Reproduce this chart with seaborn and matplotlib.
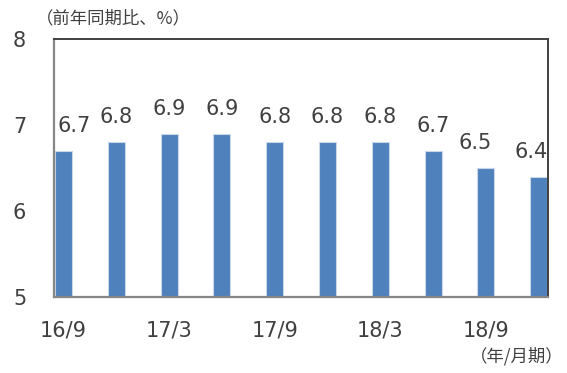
import matplotlib
matplotlib.use("Agg")
import matplotlib.pyplot as plt
import seaborn as sns
import pandas as pd

# year-on-year growth by quarter
quarters = ["16/9", "16/12", "17/3", "17/6", "17/9", "17/12", "18/3", "18/6", "18/9", "18/12"]
growth = [6.7, 6.8, 6.9, 6.9, 6.8, 6.8, 6.8, 6.7, 6.5, 6.4]
tick_labels = ["16/9", "17/3", "17/9", "18/3", "18/9"]
y_ticks = [5, 6, 7, 8]

sns.set_style("white")
plt.rcParams["font.family"] = ["DejaVu Sans", "Noto Sans CJK JP"]

text_color = "#404040"
bar_color = "#4F81BD"
cjk = ["Noto Sans CJK JP", "DejaVu Sans"]

fig = plt.figure(figsize=(5.67, 3.73), dpi=100)
ax = fig.add_axes([54 / 567, 76 / 373, 494 / 567, 258 / 373])

data = pd.DataFrame({"quarter": quarters, "growth": growth})
sns.barplot(data=data, x="quarter", y="growth", order=quarters, color=bar_color,
            saturation=1, width=0.32, edgecolor="#c9d7ea", linewidth=0.8, ax=ax)

ax.set_ylim(5, 8)
ax.set_xlim(-0.18, 9.176)
ax.set_yticks(y_ticks)
ax.set_yticklabels([str(t) for t in y_ticks])
ax.set_xticks([0, 2, 4, 6, 8])
ax.set_xticklabels(tick_labels)
ax.set_xticks([1.83, 3.83, 5.83, 7.83], minor=True)
ax.tick_params(axis="x", which="major", length=0, pad=17, labelsize=15, labelcolor=text_color)
ax.tick_params(axis="x", which="minor", length=5, width=1.2, direction="in", color="#808080")
ax.tick_params(axis="y", length=0, pad=20, labelsize=15, labelcolor=text_color)
ax.set_xlabel("")
ax.set_ylabel("")

for side in ["left", "bottom"]:
    ax.spines[side].set_color("#868686")
    ax.spines[side].set_linewidth(1.6)
for side in ["top", "right"]:
    ax.spines[side].set_color("#404040")
    ax.spines[side].set_linewidth(1.4)

# value labels, nudged like the source at the edges
nudge_px = [11, 0, 0, 0, 0, 0, 0, 0, -11, -8]
for i, v in enumerate(growth):
    ax.annotate(f"{v:.1f}", xy=(i, v), xytext=(nudge_px[i] * 0.72, 18),
                textcoords="offset points", ha="center", va="center",
                fontsize=15, color=text_color)

fig.text(36 / 567, 1 - 18 / 373, "（前年同期比、%）", fontsize=12.5, color=text_color,
         ha="left", va="center", family=cjk)
fig.text(564 / 567, 1 - 356 / 373, "（年/月期）", fontsize=12.5, color=text_color,
         ha="right", va="center", family=cjk)

fig.savefig("out.png", dpi=100)
